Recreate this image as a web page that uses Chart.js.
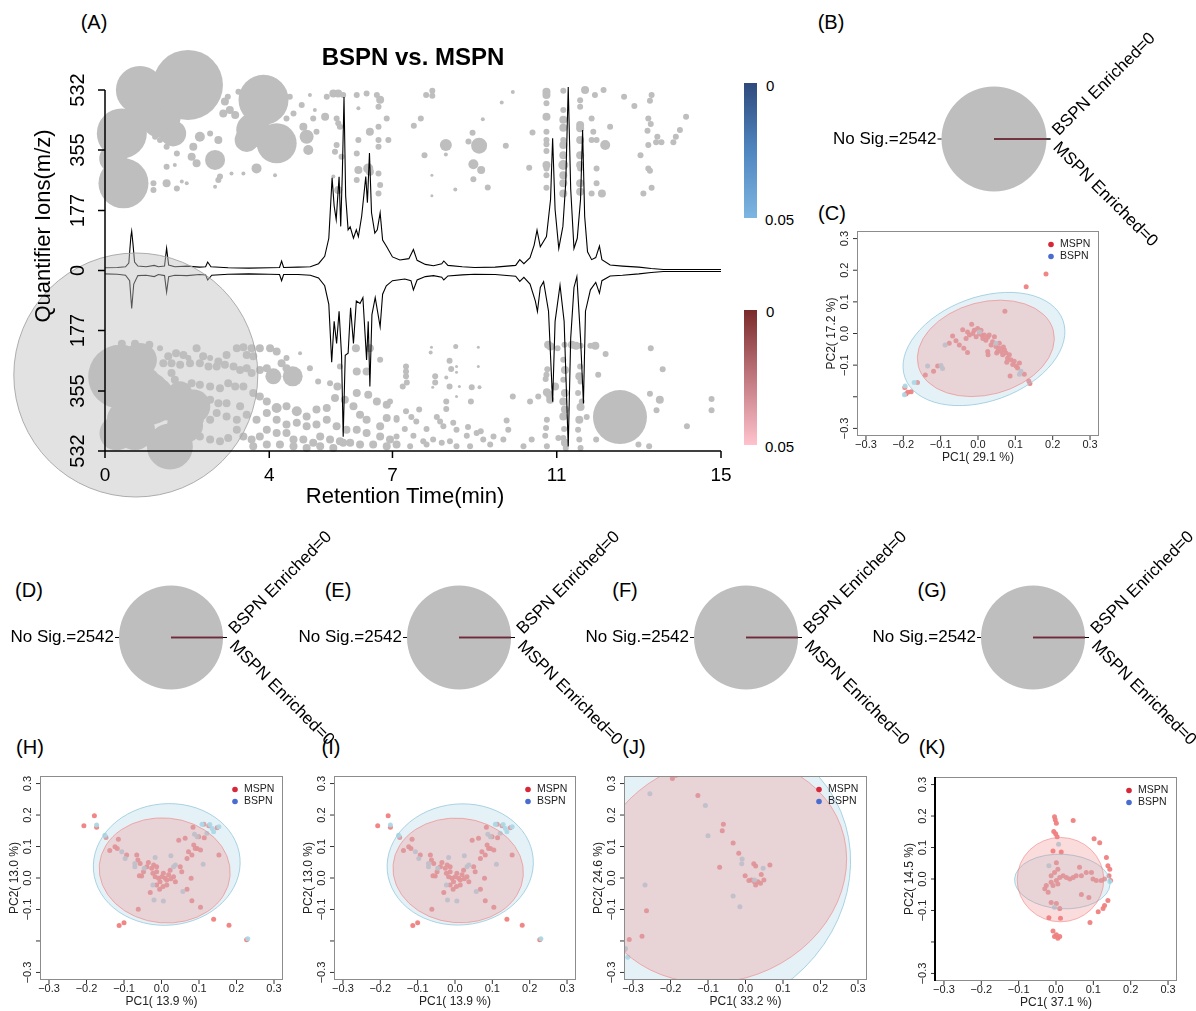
<!DOCTYPE html>
<html>
<head>
<meta charset="utf-8">
<script src="https://cdn.jsdelivr.net/npm/chart.js@4.4.0/dist/chart.umd.min.js"></script>
<style>
  body { margin: 0; background: #fff; font-family: "Liberation Sans", Arial, sans-serif; }
  #page { position: relative; width: 1196px; height: 1011px; overflow: hidden; background: #fff; }
  canvas { position: absolute; }
  .tag { position: absolute; font-size: 20px; color: #000; transform: translate(-50%, -50%); white-space: nowrap; }
  .cb { position: absolute; left: 744px; width: 13px; height: 135px; }
  .cbl { position: absolute; font-size: 15px; color: #000; transform: translateY(-50%); }
</style>
</head>
<body>
<div id="page">
  <div class="tag" style="left:94px;top:22px">(A)</div>
  <div class="tag" style="left:831px;top:22px">(B)</div>
  <div class="tag" style="left:832px;top:213px">(C)</div>
  <div class="tag" style="left:29px;top:590px">(D)</div>
  <div class="tag" style="left:338px;top:590px">(E)</div>
  <div class="tag" style="left:625px;top:590px">(F)</div>
  <div class="tag" style="left:932px;top:590px">(G)</div>
  <div class="tag" style="left:30px;top:747px">(H)</div>
  <div class="tag" style="left:331px;top:747px">(I)</div>
  <div class="tag" style="left:634px;top:747px">(J)</div>
  <div class="tag" style="left:932px;top:747px">(K)</div>

  <div class="cb" style="top:83px;background:linear-gradient(#2f4a7c,#4f86c0,#7db6e1)"></div>
  <div class="cbl" style="left:766px;top:85px">0</div>
  <div class="cbl" style="left:765px;top:219px">0.05</div>
  <div class="cb" style="top:310px;background:linear-gradient(#7a2a2a,#c0787e,#ffc2cd)"></div>
  <div class="cbl" style="left:766px;top:311px">0</div>
  <div class="cbl" style="left:765px;top:446px">0.05</div>
</div>
<script>
const FONT = '"Liberation Sans", Arial, sans-serif';
Chart.defaults.font.family = FONT;
Chart.defaults.animation = false;
Chart.defaults.responsive = false;
Chart.defaults.events = [];
Chart.defaults.layout.autoPadding = false;
Chart.defaults.plugins.legend.display = false;
Chart.defaults.plugins.tooltip.enabled = false;

// ---------- Panel A: mirrored chromatogram with quantifier ions ----------
const rtTicks = [0, 4, 7, 11, 15];
const mzTicks = [532, 355, 177, 0, -177, -355, -532];
const mzTickLabels = ['532', '355', '177', '0', '177', '355', '532'];

// [retention time, intensity] ; BSPN trace points up, MSPN trace mirrored down
const bspnTrace = [[0,8],[0.3,9],[0.5,11],[0.58,22],[0.63,100],[0.65,116],[0.68,80],[0.72,25],[0.8,13],[1.0,11],[1.2,15],[1.3,11],[1.45,13],[1.5,66],[1.55,16],[1.7,11],[2.0,13],[2.3,10],[2.45,11],[2.5,25],[2.58,11],[3.0,8],[3.5,7],[4.0,8],[4.25,9],[4.3,28],[4.35,9],[4.7,10],[5.0,11],[5.2,20],[5.35,42],[5.45,95],[5.53,273],[5.58,190],[5.63,150],[5.7,276],[5.74,130],[5.78,290],[5.82,511],[5.86,220],[5.92,120],[5.97,129],[6.05,95],[6.12,120],[6.17,100],[6.25,160],[6.35,277],[6.39,200],[6.44,346],[6.49,170],[6.57,110],[6.63,120],[6.7,170],[6.76,90],[6.86,70],[7.0,40],[7.18,31],[7.4,35],[7.51,62],[7.6,30],[7.8,18],[8.0,14],[8.2,20],[8.25,28],[8.35,15],[8.7,11],[9.0,9],[9.5,10],[10.0,15],[10.1,32],[10.2,20],[10.35,38],[10.45,75],[10.52,119],[10.6,70],[10.75,100],[10.85,210],[10.9,390],[10.96,180],[11.05,65],[11.15,130],[11.22,260],[11.28,541],[11.34,240],[11.42,65],[11.5,95],[11.58,210],[11.63,414],[11.68,160],[11.75,55],[11.85,32],[11.95,38],[12.04,72],[12.1,32],[12.3,16],[12.6,13],[13.0,10],[13.3,6],[13.6,3],[15,3]];
const mspnTrace = [[0,-10],[0.3,-11],[0.5,-14],[0.6,-30],[0.65,-112],[0.7,-40],[0.8,-15],[1.0,-14],[1.2,-18],[1.3,-12],[1.45,-15],[1.5,-64],[1.55,-18],[1.7,-14],[2.0,-15],[2.3,-12],[2.45,-13],[2.5,-28],[2.6,-14],[3.0,-11],[3.5,-10],[4.0,-11],[4.25,-12],[4.3,-30],[4.35,-12],[4.7,-12],[5.0,-14],[5.2,-22],[5.35,-45],[5.45,-100],[5.52,-270],[5.58,-150],[5.64,-215],[5.7,-120],[5.76,-250],[5.8,-490],[5.85,-250],[5.92,-244],[5.98,-110],[6.05,-215],[6.12,-90],[6.21,-97],[6.28,-80],[6.37,-264],[6.41,-150],[6.45,-342],[6.5,-130],[6.58,-80],[6.7,-166],[6.76,-70],[6.85,-45],[7.0,-30],[7.3,-25],[7.45,-30],[7.51,-57],[7.6,-28],[7.8,-18],[8.0,-15],[8.2,-20],[8.25,-28],[8.35,-16],[8.7,-13],[9.0,-11],[9.5,-12],[10.0,-17],[10.1,-32],[10.2,-20],[10.35,-40],[10.48,-90],[10.53,-121],[10.6,-50],[10.68,-33],[10.8,-120],[10.9,-387],[10.96,-150],[11.08,-43],[11.18,-150],[11.28,-519],[11.34,-200],[11.42,-50],[11.49,-18],[11.58,-200],[11.65,-392],[11.7,-120],[11.82,-57],[11.95,-35],[12.04,-67],[12.1,-30],[12.3,-16],[12.6,-14],[13.0,-10],[13.3,-6],[13.6,-3],[15,-3]];

// [retention time, m/z (signed by side), bubble radius px]
const bspnIons = [
  [2.02,547,35],[0.85,532,24],[0.41,404,25],[0.45,257,25],[1.66,404,13],[1.26,473,12],[1.30,440,16],[1.05,470,12],[1.55,450,12],[0.20,330,14],[3.86,503,25],[4.18,375,20],[3.61,414,17],[3.45,385,12],[2.68,326,10],[4.91,394,7],[4.95,355,5],
  [2.99,512,3],[2.92,498,4],[3.04,473,4],[3.17,458,4],[2.88,463,4],[2.76,385,4],[2.56,404,3],[2.31,394,5],[2.15,365,4],[2.11,335,4],[2.23,316,4],[1.75,345,3],[1.50,365,3],[1.26,434,3],[1.38,424,4],[1.22,394,3],[1.34,385,3],[1.50,306,3],[1.70,311,2],[1.50,257,4],[1.75,242,3],[1.87,262,2],[1.99,257,2],[1.18,257,3],[1.18,237,3],[2.76,267,3],[2.80,277,3],[2.68,247,2],[3.08,286,2],[3.37,286,2],[3.69,301,5],[4.14,281,2],[3.25,527,3],[4.50,512,3],[4.99,517,2],[4.79,488,3],[5.07,448,3],[5.11,473,2],[5.15,409,3],[4.83,424,4],[4.59,463,3],[4.42,448,3],[5.36,453,4],[5.40,512,3],[5.56,522,4],[5.68,522,4],[5.80,517,3],[6.13,517,3],[6.37,522,3],[6.62,517,3],[6.70,503,4],[6.66,483,3],[6.17,478,2],[5.64,448,3],[5.68,434,3],[5.72,424,3],[6.45,409,4],[6.66,424,3],[6.86,448,3],[6.17,385,3],[6.66,385,3],[6.66,365,3],[6.90,385,3],[5.64,370,3],[5.60,350,3],[5.76,335,3],[6.13,345,3],[6.17,296,4],[6.41,301,5],[6.45,291,4],[6.66,286,3],[6.70,252,3],[6.66,227,3],[5.56,277,2],[5.68,237,4],[6.13,267,3],
  [7.82,517,3],[7.97,530,3],[7.97,515,3],[7.69,448,3],[7.52,427,3],[7.78,340,3],[7.96,281,1.5],[7.96,220,1.5],[8.30,370,6],[8.30,342,2],[8.53,239,2],[9.11,368,8],[8.95,406,3],[8.85,380,3],[8.97,313,5],[9.16,296,4],[8.97,269,3],[9.32,245,3],[9.20,446,2],[9.66,495,2],[9.76,368,3],[9.93,526,2],[10.33,303,3],[10.41,407,3],
  [10.75,527,4],[10.75,517,4],[10.75,493,3],[10.75,453,4],[10.75,409,3],[10.75,385,3],[10.75,372,3],[10.75,352,3],[10.75,311,4],[10.75,301,3],[10.75,281,3],[10.75,244,3],
  [11.16,530,3],[11.16,473,3],[11.16,444,4],[11.16,421,4],[11.16,385,3],[11.16,370,4],[11.16,340,4],[11.16,311,5],[11.16,281,4],[11.16,257,4],[11.16,227,4],
  [11.57,502,3],[11.57,483,3],[11.57,429,4],[11.57,419,4],[11.57,385,4],[11.57,340,4],[11.57,311,4],[11.57,301,3],[11.57,257,4],[11.57,232,4],
  [11.69,532,4],[11.93,517,3],[12.14,532,3],[11.85,448,3],[11.89,409,3],[11.85,385,3],[11.97,385,3],[12.18,370,5],[11.97,301,3],[11.97,257,3],[11.85,227,3],[12.10,227,4],[12.30,424,3],[12.64,512,3],[12.89,485,3],[13.31,517,3],[13.27,500,3],[13.23,448,3],[13.29,432,3],[13.21,412,3],[13.23,370,3],[13.45,394,3],[13.55,378,3],[13.42,378,3],[13.04,340,3],[13.23,301,3],[13.27,294,3],[13.31,244,3],[13.11,227,3],[13.84,378,3],[13.90,394,3],[14.00,414,3],[14.15,453,3]
];
const mspnIons = [
  [0.37,-313,32],[0.85,-264,17],[0.90,-340,20],[1.10,-381,25],[0.53,-441,20],[0.73,-470,20],[0.28,-480,17],[1.58,-519,23],[1.95,-455,18],[1.45,-400,14],[1.18,-342,13],[2.15,-401,17],[1.83,-362,12],[4.10,-312,8],[4.57,-312,10],[12.54,-432,27],
  [0.41,-216,4],[0.73,-216,4],[1.08,-219,4],[1.34,-229,3],[1.54,-253,4],[1.73,-244,4],[1.91,-249,4],[2.03,-258,3],[2.23,-229,4],[2.39,-253,4],[2.56,-258,3],[2.76,-268,4],[2.96,-249,4],[3.21,-229,4],[3.37,-226,4],[3.57,-229,4],[3.45,-249,4],[3.61,-253,4],[3.77,-229,4],[4.02,-229,4],[4.18,-239,4],[4.42,-258,3],[4.75,-244,2],
  [1.42,-273,4],[1.62,-273,4],[1.83,-278,4],[2.07,-273,4],[2.31,-273,4],[2.52,-283,4],[2.72,-283,4],[2.92,-278,4],[3.13,-283,4],[3.29,-293,4],[3.45,-288,4],[3.57,-302,4],[3.77,-293,4],[3.94,-288,4],[4.30,-273,4],[4.42,-288,4],[4.99,-288,3],[5.19,-327,3],[5.48,-332,3],[5.66,-342,4],[5.72,-283,3],[6.11,-229,4],[6.45,-229,4],[6.70,-263,3],[6.13,-298,4],[6.37,-298,4],[6.13,-361,4],[6.41,-366,4],[6.62,-386,4],[6.86,-396,4],[7.10,-435,3],[6.86,-435,4],[6.70,-459,4],[6.37,-440,4],[6.21,-425,4],[6.05,-400,4],[5.84,-381,4],[5.60,-376,4],[5.40,-405,4],[5.15,-410,4],[4.91,-430,4],[4.67,-415,5],[4.42,-400,4],[4.18,-405,5],[3.94,-386,4],[3.77,-371,4],[3.61,-361,4],[3.37,-342,4],[3.17,-342,4],[3.00,-332,4],[2.80,-347,4],[2.56,-342,4],[2.31,-337,4],[2.11,-332,4],[1.87,-342,4],[1.70,-322,4],[1.62,-302,4],[1.58,-396,4],[1.50,-430,4],[1.83,-420,4],[2.15,-405,4],[2.31,-400,4],[2.56,-381,4],[2.76,-391,4],[2.96,-391,4],[3.29,-400,4],[3.45,-425,4],[3.69,-440,4],[3.94,-420,4],[4.18,-440,4],[4.42,-454,4],[4.67,-449,4],[4.91,-459,4],[5.15,-454,4],[5.40,-440,4],[5.64,-459,4],[5.88,-469,4],[6.13,-469,4],[6.37,-479,4],[6.70,-489,4],[6.94,-498,4],[7.10,-513,4],[6.86,-518,4],[6.53,-513,4],[6.21,-513,4],[5.97,-508,4],[5.72,-503,4],[5.48,-498,4],[5.24,-489,4],[5.07,-508,4],[4.83,-498,4],[4.59,-498,4],[4.42,-479,4],[4.18,-479,4],[3.94,-469,4],[3.77,-489,4],[3.57,-498,4],[3.37,-489,4],[3.21,-469,4],[3.00,-494,4],[2.80,-503,4],[2.56,-498,4],[2.31,-489,4],[2.15,-469,4],[2.31,-440,4],[2.56,-440,4],[2.72,-420,4],[2.96,-430,4],[3.21,-440,4],[3.61,-518,4],[3.94,-513,4],[4.26,-513,4],[4.59,-518,4],[4.91,-523,4],[5.24,-518,4],[5.56,-523,4],[5.80,-508,4],
  [7.95,-226,1.5],[7.93,-242,2],[8.54,-224,2.5],[9.09,-226,1.5],[7.33,-283,3],[7.33,-298,3],[7.33,-312,3],[7.35,-330,3],[7.25,-342,3],[8.04,-312,3],[8.04,-330,3],[8.39,-266,3],[8.43,-290,3],[8.56,-283,1.5],[8.56,-300,1.5],[9.09,-283,1.5],[8.31,-315,2],[8.39,-342,3],[8.63,-342,1.5],[8.93,-344,3],[9.12,-344,2],[7.98,-344,1.5],[8.56,-371,1.5],[8.31,-386,3],[8.91,-386,3],[8.31,-408,3],[9.93,-371,3],[10.35,-386,3],
  [10.79,-219,4],[10.85,-224,4],[11.02,-229,3],[11.19,-219,3],[11.37,-219,4],[11.47,-222,4],[11.58,-222,3],[11.82,-222,3],[11.94,-222,4],[12.19,-246,3],[13.29,-229,3],[13.58,-291,3],[10.75,-307,3],[10.77,-291,3],[10.73,-320,3],[10.76,-359,4],[10.82,-366,4],[10.84,-381,4],[10.55,-371,3],[10.96,-342,4],[11.16,-263,3],[11.20,-293,4],[11.16,-322,3],[11.20,-361,4],[11.16,-386,4],[11.20,-410,4],[11.16,-430,4],[11.18,-467,3],[11.16,-494,3],[11.20,-508,4],[11.22,-523,3],[11.57,-283,3],[11.55,-312,4],[11.58,-327,3],[11.52,-361,3],[11.61,-386,3],[11.58,-402,4],[11.55,-440,4],[11.52,-469,3],[11.55,-498,3],[11.58,-523,3],[11.73,-432,3],[12.01,-307,3],[11.96,-498,3],[11.04,-494,3],[10.76,-440,3],[10.74,-464,3],[10.72,-487,3],[10.76,-518,3],[10.39,-498,3],[10.19,-518,3],[13.27,-363,3],[13.51,-381,4],[13.43,-412,3],[14.17,-459,3],[14.77,-379,3],[14.77,-412,3],[12.99,-513,3],[13.25,-518,3],
  [6.94,-386,3],[7.10,-440,3],[7.33,-415,3],[7.65,-410,3],[7.46,-432,3],[7.58,-445,3],[8.08,-432,3],[8.16,-445,3],[8.48,-449,3],[8.24,-459,3],[7.83,-467,3],[7.30,-467,3],[7.10,-489,3],[7.51,-487,3],[7.75,-503,3],[7.99,-498,3],[8.20,-508,3],[8.40,-503,3],[8.56,-469,3],[8.84,-461,3],[9.05,-479,3],[9.21,-498,3],[9.46,-489,3],[9.70,-498,3],[9.78,-442,3],[9.82,-469,3],[9.38,-513,3],[8.89,-518,3],[8.56,-518,3],[7.43,-518,3],[7.83,-513,3],[9.15,-474,3],[8.81,-487,3]
];
// one very wide ion sitting over the start of the run
const wideIon = [[0.75, -308, 122]];

const toXY = arr => arr.map(p => ({ x: p[0], y: p[1] }));
const toXYR = arr => arr.map(p => ({ x: p[0], y: p[1], r: p[2] }));

function addCanvas(left, top, w, h) {
  const c = document.createElement('canvas');
  c.width = w; c.height = h;
  c.style.left = left + 'px'; c.style.top = top + 'px';
  c.style.width = w + 'px'; c.style.height = h + 'px';
  document.getElementById('page').appendChild(c);
  return c;
}

const axesA = {
  id: 'axesA',
  afterDraw(chart) {
    const { ctx, chartArea: a, scales: { x, y } } = chart;
    const xl = x.getPixelForValue(rtTicks[0]);
    const yb = y.getPixelForValue(mzTicks[mzTicks.length - 1]);
    ctx.save();
    ctx.strokeStyle = '#000'; ctx.fillStyle = '#000'; ctx.lineWidth = 1.5;
    ctx.beginPath();
    ctx.moveTo(xl, y.getPixelForValue(mzTicks[0])); ctx.lineTo(xl, yb);
    mzTicks.forEach(v => { const p = y.getPixelForValue(v); ctx.moveTo(xl, p); ctx.lineTo(xl - 7, p); });
    ctx.moveTo(xl, yb); ctx.lineTo(x.getPixelForValue(rtTicks[rtTicks.length - 1]), yb);
    rtTicks.forEach(v => { const p = x.getPixelForValue(v); ctx.moveTo(p, yb); ctx.lineTo(p, yb + 7); });
    ctx.stroke();
    ctx.textAlign = 'center'; ctx.textBaseline = 'middle';
    ctx.font = '20px ' + FONT;
    mzTicks.forEach((v, i) => {
      ctx.save();
      ctx.translate(xl - 27, y.getPixelForValue(v));
      ctx.rotate(-Math.PI / 2);
      ctx.fillText(mzTickLabels[i], 0, 0);
      ctx.restore();
    });
    ctx.font = '19px ' + FONT;
    rtTicks.forEach(v => ctx.fillText(String(v), x.getPixelForValue(v), yb + 25));
    ctx.font = '22px ' + FONT;
    ctx.fillText('Retention Time(min)', 405, 497);
    ctx.save(); ctx.translate(44, 226); ctx.rotate(-Math.PI / 2);
    ctx.fillText('Quantifier Ions(m/z)', 0, 0);
    ctx.restore();
    ctx.font = 'bold 24px ' + FONT;
    ctx.fillText('BSPN vs. MSPN', (a.left + a.right) / 2, 58);
    ctx.restore();
  }
};

new Chart(addCanvas(0, 0, 800, 520), {
  type: 'scatter',
  data: {
    datasets: [
      { type: 'bubble', data: toXYR(wideIon), backgroundColor: 'rgba(190,190,190,0.45)', borderColor: 'rgba(165,165,165,0.9)', borderWidth: 1, order: 0, clip: false },
      { data: toXY(bspnTrace), showLine: true, borderColor: '#000', borderWidth: 1.1, pointRadius: 0, order: 1, clip: false },
      { data: toXY(mspnTrace), showLine: true, borderColor: '#000', borderWidth: 1.1, pointRadius: 0, order: 1, clip: false },
      { type: 'bubble', data: toXYR(bspnIons), backgroundColor: 'rgb(190,190,190)', borderWidth: 0, order: 2, clip: false },
      { type: 'bubble', data: toXYR(mspnIons), backgroundColor: 'rgb(190,190,190)', borderWidth: 0, order: 2, clip: false }
    ]
  },
  options: {
    layout: { autoPadding: false, padding: { left: 105, right: 79, top: 90, bottom: 69 } },
    scales: {
      x: { type: 'linear', min: 0, max: 15, display: false },
      y: { type: 'linear', min: -532, max: 532, display: false }
    }
  },
  plugins: [axesA]
});

// ---------- Panels B, D-G: significance pies ----------
const pieNames = ['No Sig.', 'BSPN Enriched', 'MSPN Enriched'];
const pieValues = [2542, 0, 0];
const pieColors = ['#bebebe', '#4a6cd0', '#d62839'];
const pieLabelTurn = [0, -45, 45];

const pieText = {
  id: 'pieText',
  afterDatasetsDraw(chart) {
    const ctx = chart.ctx;
    const arcs = chart.getDatasetMeta(0).data;
    const cx = arcs[0].x, cy = arcs[0].y, r = arcs[0].outerRadius;
    ctx.save();
    // empty slices collapse to a single edge
    arcs.forEach(arc => {
      if (arc.endAngle - arc.startAngle > 1e-6) return;
      ctx.strokeStyle = '#6e2b3a'; ctx.lineWidth = 1.6;
      ctx.beginPath(); ctx.moveTo(cx, cy);
      ctx.lineTo(cx + r * Math.cos(arc.startAngle), cy + r * Math.sin(arc.startAngle));
      ctx.stroke();
    });
    ctx.font = '17px ' + FONT; ctx.fillStyle = '#000'; ctx.strokeStyle = '#000'; ctx.lineWidth = 1;
    arcs.forEach((arc, i) => {
      const mid = (arc.startAngle + arc.endAngle) / 2;
      const c = Math.cos(mid), s = Math.sin(mid);
      ctx.beginPath(); ctx.moveTo(cx + r * c, cy + r * s); ctx.lineTo(cx + (r + 4) * c, cy + (r + 4) * s); ctx.stroke();
      const text = pieNames[i] + '=' + pieValues[i];
      const turn = pieLabelTurn[i];
      ctx.save();
      ctx.textBaseline = 'middle';
      if (turn === 0) {
        ctx.textAlign = c < 0 ? 'right' : 'left';
        ctx.fillText(text, cx + (r + 5) * c, cy + (r + 5) * s);
      } else {
        ctx.translate(cx + (r + 5) * c + 4, cy + (r + 5) * s + (turn < 0 ? -6 : 6));
        ctx.rotate(turn * Math.PI / 180);
        ctx.textAlign = 'left';
        ctx.fillText(text, 0, 0);
      }
      ctx.restore();
    });
    ctx.restore();
  }
};

function piePanel(left, top, w, h, cx, cy, r) {
  const pl = cx - r - left, pt = cy - r - top;
  new Chart(addCanvas(left, top, w, h), {
    type: 'pie',
    data: { labels: pieNames, datasets: [{ data: pieValues, backgroundColor: pieColors, borderWidth: 0 }] },
    options: {
      rotation: 90,
      layout: { autoPadding: false, padding: { left: pl, top: pt, right: w - pl - 2 * r, bottom: h - pt - 2 * r } }
    },
    plugins: [pieText]
  });
}
piePanel(800, 30, 396, 230, 994, 139, 52.5);
piePanel(0, 520, 340, 230, 171, 637.5, 52);
piePanel(287, 520, 340, 230, 459, 637.5, 52);
piePanel(574, 520, 340, 230, 746, 637.5, 52);
piePanel(861, 520, 340, 230, 1033, 637.5, 52);

// ---------- Panels C, H-K: PCA score plots ----------
const groupNames = ['MSPN', 'BSPN'];
const legendColors = ['#d62839', '#4a6cd0'];
const pointColors = ['rgba(240,128,128,0.95)', 'rgba(173,216,230,0.95)'];
const ellipseFill = ['rgba(173,216,230,0.33)', 'rgba(240,128,128,0.28)'];
const ellipseLine = ['rgba(150,200,220,0.8)', 'rgba(240,128,128,0.6)'];
const pcTicks = [-0.3, -0.2, -0.1, 0, 0.1, 0.2, 0.3];
const pcTickLabels = ['\u22120.3', '\u22120.2', '\u22120.1', '0.0', '0.1', '0.2', '0.3'];
const pcYShown = [true, false, true, true, true, true, true];

const pcaC_M = [[0.182,0.188],[0.129,0.148],[0.072,0.070],[-0.068,-0.008],[-0.041,0.012],[-0.059,-0.023],[-0.077,-0.031],[-0.050,-0.036],[-0.038,-0.047],[-0.028,-0.060],[-0.017,0.029],[-0.010,0.010],[-0.001,0.016],[0.008,0.010],[0.004,0.000],[0.017,-0.005],[0.026,-0.012],[0.030,-0.005],[0.021,-0.021],[0.026,-0.057],[0.027,-0.067],[0.039,-0.026],[0.048,-0.041],[0.053,-0.055],[0.062,-0.057],[0.066,-0.067],[0.075,-0.062],[0.079,-0.078],[0.088,-0.083],[0.093,-0.098],[0.102,-0.103],[0.106,-0.109],[0.086,-0.134],[0.124,-0.129],[0.136,-0.150],[0.139,-0.158],[-0.108,-0.103],[-0.119,-0.119],[-0.141,-0.131],[-0.162,-0.155],[-0.179,-0.184],[-0.188,-0.186],[-0.193,-0.191],[-0.196,-0.171],[-0.023,-0.005],[-0.014,0.000],[0.013,-0.016],[0.035,-0.036],[0.057,-0.047],[0.071,-0.052],[0.084,-0.067],[0.097,-0.088],[0.044,-0.010],[0.057,-0.031],[0.068,-0.043],[0.111,-0.093],[-0.032,-0.016],[-0.005,-0.010],[0.010,-0.005],[0.050,-0.062],[0.077,-0.091],[-0.028,0.005]];
const pcaC_B = [[-0.088,-0.036],[-0.135,-0.103],[-0.099,-0.101],[-0.095,-0.111],[-0.171,-0.155],[-0.195,-0.166],[-0.197,-0.194],[0.048,-0.031],[0.111,-0.129],[0.115,-0.119],[0.004,0.005]];
const pcaH_M = [[-0.207,0.166],[-0.179,0.198],[-0.173,0.161],[-0.148,0.129],[-0.138,0.087],[-0.124,0.099],[-0.118,0.094],[-0.115,0.123],[-0.093,0.073],[-0.066,0.073],[-0.063,0.057],[-0.057,0.046],[-0.053,0.006],[-0.059,0.007],[-0.048,0.020],[-0.039,0.036],[-0.035,0.049],[-0.021,0.041],[-0.013,0.036],[-0.023,0.015],[-0.017,0.004],[-0.008,-0.001],[0.001,0.004],[0.005,0.015],[0.010,-0.001],[-0.004,-0.012],[0.004,-0.027],[-0.013,-0.022],[-0.030,-0.046],[-0.005,-0.036],[0.014,-0.006],[0.019,0.010],[0.023,0.025],[0.032,0.004],[0.037,-0.012],[0.050,0.036],[0.054,0.020],[0.046,0.120],[0.063,0.126],[0.068,0.062],[0.072,0.083],[0.081,0.073],[0.084,0.161],[0.086,0.105],[0.090,0.094],[0.095,0.094],[0.104,0.089],[0.079,-0.001],[0.068,-0.036],[0.081,-0.072],[0.104,-0.093],[0.113,0.171],[0.153,0.073],[0.148,0.160],[-0.062,-0.099],[-0.113,-0.151],[-0.100,-0.142],[0.139,-0.131],[0.180,-0.150],[0.227,-0.196],[0.099,0.131],[0.114,0.128],[0.126,0.166],[-0.026,0.031],[0.014,-0.022],[0.025,-0.002],[-0.013,0.020]];
const pcaH_B = [[-0.173,0.168],[-0.151,0.136],[-0.106,0.083],[-0.097,0.062],[-0.071,0.046],[-0.071,0.036],[-0.046,0.031],[-0.017,0.065],[0.025,0.071],[0.032,0.036],[0.037,0.041],[0.057,-0.043],[-0.020,-0.070],[0.005,-0.073],[-0.023,-0.022],[0.088,0.139],[0.095,0.131],[0.111,0.044],[0.108,0.171],[0.129,0.170],[0.135,0.157],[0.139,0.147],[0.153,0.163],[0.230,-0.193],[0.121,0.142]];
const pcaJ_M = [[-0.186,0.326],[-0.195,0.316],[-0.127,0.262],[-0.059,0.171],[-0.062,0.150],[-0.033,0.111],[-0.018,0.079],[-0.069,0.034],[0.022,0.045],[0.027,0.038],[0.065,0.041],[-0.001,0.007],[0.009,-0.008],[0.016,-0.006],[0.024,-0.012],[0.027,-0.022],[0.040,-0.017],[0.049,-0.006],[0.042,0.011],[0.033,-0.012],[-0.264,-0.104],[-0.276,-0.185],[-0.310,-0.195],[-0.323,-0.227]];
const pcaJ_B = [[-0.255,0.268],[-0.107,0.230],[-0.100,0.134],[-0.009,0.060],[-0.010,0.045],[0.047,0.031],[0.024,-0.006],[-0.268,-0.022],[-0.033,-0.057],[-0.015,-0.091],[-0.320,-0.224],[-0.314,-0.252]];
const pcaK_M = [[-0.004,0.198],[-0.002,0.188],[0.001,0.177],[-0.006,0.151],[-0.001,0.144],[0.003,0.134],[-0.008,0.089],[0.014,0.086],[0.046,0.186],[0.102,0.128],[0.117,0.115],[0.135,0.068],[0.139,0.042],[0.144,0.031],[0.142,0.010],[0.146,-0.005],[0.130,0.000],[0.121,-0.005],[0.099,0.000],[0.108,-0.005],[0.095,0.021],[0.081,0.021],[0.063,0.037],[0.068,0.010],[0.054,0.010],[0.046,0.005],[0.037,0.000],[0.028,0.005],[0.019,0.010],[0.010,0.005],[0.001,-0.005],[-0.013,-0.010],[-0.026,-0.021],[-0.030,-0.031],[-0.021,-0.042],[-0.008,-0.021],[0.005,-0.016],[-0.004,0.021],[0.001,0.052],[0.005,0.031],[-0.013,0.010],[0.068,-0.049],[0.088,-0.059],[0.139,-0.068],[0.130,-0.084],[0.126,-0.094],[0.113,-0.104],[0.091,-0.138],[-0.013,-0.075],[0.010,-0.094],[0.001,-0.078],[-0.019,-0.123],[0.012,-0.125],[-0.008,-0.165],[-0.004,-0.183],[0.005,-0.188],[0.001,-0.177],[0.010,-0.183]];
const pcaK_B = [[0.007,0.110],[-0.019,0.042],[-0.004,-0.090],[0.144,-0.008]];

// [centre x, centre y, semi-axis a, semi-axis b (PC1 units), tilt deg] ; BSPN first, MSPN second
const ellC = [[0.016,-0.049,0.225,0.139,-20],[0.021,-0.047,0.187,0.124,-15]];
const ellH = [[0.014,0.043,0.196,0.162,-5],[0.0085,0.024,0.175,0.140,5]];
const ellJ = [[-0.109,0.010,0.402,0.362,-35],[-0.068,0.025,0.343,0.295,-20]];
const ellK = [[0.017,-0.008,0.128,0.073,3],[0.012,-0.002,0.116,0.113,0]];

function pcaFrame(cfg) {
  return {
    id: 'pcaFrame',
    afterDatasetsDraw(chart) {
      const { ctx, chartArea: a, scales: { x, y } } = chart;
      const k = Math.abs(x.getPixelForValue(1) - x.getPixelForValue(0));
      ctx.save();
      ctx.beginPath(); ctx.rect(a.left, a.top, a.width, a.height); ctx.clip();
      cfg.ellipses.forEach((e, i) => {
        ctx.beginPath();
        ctx.ellipse(x.getPixelForValue(e[0]), y.getPixelForValue(e[1]), e[2] * k, e[3] * k, e[4] * Math.PI / 180, 0, 2 * Math.PI);
        ctx.fillStyle = ellipseFill[i]; ctx.fill();
        ctx.strokeStyle = ellipseLine[i]; ctx.lineWidth = 1; ctx.stroke();
      });
      ctx.restore();
    },
    afterDraw(chart) {
      const { ctx, chartArea: a, scales: { x, y } } = chart;
      ctx.save();
      ctx.strokeStyle = '#8c8c8c'; ctx.lineWidth = 1;
      ctx.strokeRect(a.left + 0.5, a.top + 0.5, a.width - 1, a.height - 1);
      ctx.strokeStyle = '#333';
      ctx.beginPath();
      pcTicks.forEach(v => {
        const px = x.getPixelForValue(v), py = y.getPixelForValue(v);
        ctx.moveTo(px, a.bottom); ctx.lineTo(px, a.bottom + 4);
        ctx.moveTo(a.left, py); ctx.lineTo(a.left - 4, py);
      });
      ctx.stroke();
      if (cfg.darkLeft) {
        ctx.strokeStyle = '#000'; ctx.lineWidth = 2;
        ctx.beginPath(); ctx.moveTo(a.left, a.top); ctx.lineTo(a.left, a.bottom); ctx.stroke();
      }
      ctx.fillStyle = '#222'; ctx.textAlign = 'center'; ctx.textBaseline = 'middle';
      ctx.font = '11px ' + FONT;
      pcTicks.forEach((v, i) => {
        ctx.fillText(pcTickLabels[i], x.getPixelForValue(v), a.bottom + 9);
        if (!pcYShown[i]) return;
        ctx.save(); ctx.translate(a.left - 12, y.getPixelForValue(v)); ctx.rotate(-Math.PI / 2);
        ctx.fillText(pcTickLabels[i], 0, 0); ctx.restore();
      });
      ctx.font = '12px ' + FONT;
      ctx.fillText(cfg.xTitle, (a.left + a.right) / 2, a.bottom + 22);
      ctx.save(); ctx.translate(a.left - 25, (a.top + a.bottom) / 2); ctx.rotate(-Math.PI / 2);
      ctx.fillText(cfg.yTitle, 0, 0); ctx.restore();
      ctx.font = '10.5px ' + FONT; ctx.textAlign = 'left';
      groupNames.forEach((g, i) => {
        const dx = a.right - 48, dy = a.top + 13.5 + i * 12;
        ctx.fillStyle = legendColors[i];
        ctx.beginPath(); ctx.arc(dx, dy, 2.8, 0, 2 * Math.PI); ctx.fill();
        ctx.fillStyle = '#222'; ctx.fillText(g, dx + 9, dy);
      });
      ctx.restore();
    }
  };
}

function pcaPanel(box, mspn, bspn, ellipses, xTitle, yTitle, darkLeft) {
  const [bl, bt, bw, bh] = box;
  new Chart(addCanvas(bl - 40, bt - 12, bw + 55, bh + 47), {
    type: 'scatter',
    data: {
      datasets: [
        { data: toXY(bspn), backgroundColor: pointColors[1], borderWidth: 0, pointRadius: 2.5 },
        { data: toXY(mspn), backgroundColor: pointColors[0], borderWidth: 0, pointRadius: 2.5 }
      ]
    },
    options: {
      layout: { autoPadding: false, padding: { left: 40, top: 12, right: 15, bottom: 35 } },
      scales: {
        x: { type: 'linear', min: -0.324, max: 0.324, display: false },
        y: { type: 'linear', min: -0.324, max: 0.324, display: false }
      }
    },
    plugins: [pcaFrame({ ellipses, xTitle, yTitle, darkLeft })]
  });
}

pcaPanel([857, 231, 242, 205], pcaC_M, pcaC_B, ellC, 'PC1( 29.1 %)', 'PC2( 17.2 %)', false);
pcaPanel([40, 776, 243, 204], pcaH_M, pcaH_B, ellH, 'PC1( 13.9 %)', 'PC2( 13.0 %)', false);
pcaPanel([334, 776, 242, 204], pcaH_M, pcaH_B, ellH, 'PC1( 13.9 %)', 'PC2( 13.0 %)', false);
pcaPanel([624, 776, 243, 204], pcaJ_M, pcaJ_B, ellJ, 'PC1( 33.2 %)', 'PC2( 24.6 %)', false);
pcaPanel([935, 777, 242, 204], pcaK_M, pcaK_B, ellK, 'PC1( 37.1 %)', 'PC2( 14.5 %)', true);
</script>
</body>
</html>
